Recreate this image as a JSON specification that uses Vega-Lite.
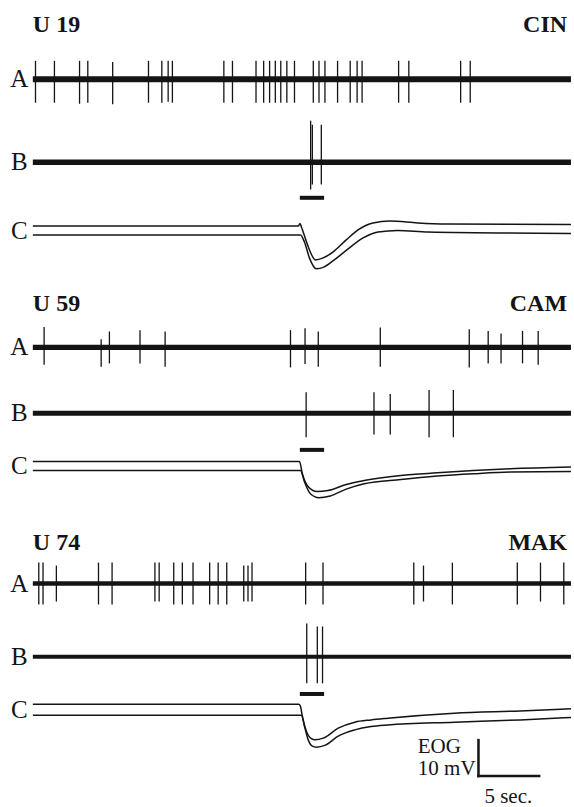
{
  "$schema": "https://vega.github.io/schema/vega-lite/v6.json",
  "autosize": {"type": "fit", "contains": "padding"},
  "width": 574,
  "height": 807,
  "padding": 0,
  "background": "white",
  "config": {"view": {"stroke": null}},
  "datasets": {
    "baselines": [
      {"trace": "A1", "t0": 0, "t1": 44.34, "v": -22.08},
      {"trace": "B1", "t0": 0, "t1": 44.34, "v": -45.19},
      {"trace": "A2", "t0": 0, "t1": 44.34, "v": -96.75},
      {"trace": "B2", "t0": 0, "t1": 44.34, "v": -115.08},
      {"trace": "A3", "t0": 0, "t1": 44.34, "v": -162.5},
      {"trace": "B3", "t0": 0, "t1": 44.34, "v": -182.86}
    ],
    "spikes": [
      {"trace": "A1", "t": 0.22, "top": -16.94, "bottom": -28.61},
      {"trace": "A1", "t": 1.78, "top": -16.94, "bottom": -28.61},
      {"trace": "A1", "t": 3.85, "top": -16.94, "bottom": -28.9},
      {"trace": "A1", "t": 4.53, "top": -16.94, "bottom": -28.61},
      {"trace": "A1", "t": 6.58, "top": -17.3, "bottom": -29.0},
      {"trace": "A1", "t": 9.53, "top": -16.94, "bottom": -28.61},
      {"trace": "A1", "t": 10.63, "top": -16.94, "bottom": -28.61},
      {"trace": "A1", "t": 11.15, "top": -16.94, "bottom": -28.3},
      {"trace": "A1", "t": 11.5, "top": -16.94, "bottom": -28.61},
      {"trace": "A1", "t": 15.74, "top": -16.94, "bottom": -28.61},
      {"trace": "A1", "t": 16.45, "top": -16.94, "bottom": -28.61},
      {"trace": "A1", "t": 18.39, "top": -16.94, "bottom": -28.61},
      {"trace": "A1", "t": 19.02, "top": -16.94, "bottom": -28.61},
      {"trace": "A1", "t": 19.51, "top": -16.94, "bottom": -28.61},
      {"trace": "A1", "t": 19.98, "top": -16.94, "bottom": -28.61},
      {"trace": "A1", "t": 20.43, "top": -16.94, "bottom": -28.61},
      {"trace": "A1", "t": 20.93, "top": -16.94, "bottom": -28.61},
      {"trace": "A1", "t": 21.56, "top": -16.94, "bottom": -28.61},
      {"trace": "A1", "t": 23.11, "top": -16.94, "bottom": -28.61},
      {"trace": "A1", "t": 23.58, "top": -16.94, "bottom": -28.61},
      {"trace": "A1", "t": 24.07, "top": -16.94, "bottom": -28.61},
      {"trace": "A1", "t": 25.11, "top": -16.94, "bottom": -28.61},
      {"trace": "A1", "t": 26.15, "top": -16.94, "bottom": -28.61},
      {"trace": "A1", "t": 26.72, "top": -16.94, "bottom": -28.61},
      {"trace": "A1", "t": 27.13, "top": -16.94, "bottom": -28.61},
      {"trace": "A1", "t": 30.14, "top": -16.94, "bottom": -28.61},
      {"trace": "A1", "t": 30.98, "top": -16.94, "bottom": -28.61},
      {"trace": "A1", "t": 35.25, "top": -16.94, "bottom": -28.61},
      {"trace": "A1", "t": 36.04, "top": -16.94, "bottom": -28.61},
      {"trace": "B1", "t": 22.89, "top": -33.61, "bottom": -52.78},
      {"trace": "B1", "t": 23.03, "top": -34.72, "bottom": -51.39},
      {"trace": "B1", "t": 23.77, "top": -34.72, "bottom": -51.39},
      {"trace": "A2", "t": 0.93, "top": -91.03, "bottom": -101.58},
      {"trace": "A2", "t": 5.63, "top": -94.44, "bottom": -102.14},
      {"trace": "A2", "t": 6.31, "top": -92.31, "bottom": -101.19},
      {"trace": "A2", "t": 8.83, "top": -91.94, "bottom": -101.19},
      {"trace": "A2", "t": 10.9, "top": -92.31, "bottom": -102.14},
      {"trace": "A2", "t": 21.23, "top": -91.94, "bottom": -102.31},
      {"trace": "A2", "t": 22.43, "top": -91.39, "bottom": -101.39},
      {"trace": "A2", "t": 23.52, "top": -92.31, "bottom": -102.14},
      {"trace": "A2", "t": 28.63, "top": -91.19, "bottom": -102.14},
      {"trace": "A2", "t": 35.96, "top": -91.67, "bottom": -102.31},
      {"trace": "A2", "t": 37.52, "top": -92.14, "bottom": -101.19},
      {"trace": "A2", "t": 38.58, "top": -92.86, "bottom": -101.19},
      {"trace": "A2", "t": 40.35, "top": -92.14, "bottom": -101.19},
      {"trace": "A2", "t": 41.64, "top": -92.14, "bottom": -101.58},
      {"trace": "B2", "t": 22.52, "top": -109.25, "bottom": -121.75},
      {"trace": "B2", "t": 28.11, "top": -109.25, "bottom": -121.03},
      {"trace": "B2", "t": 29.45, "top": -109.72, "bottom": -121.03},
      {"trace": "B2", "t": 32.65, "top": -108.61, "bottom": -121.75},
      {"trace": "B2", "t": 34.65, "top": -108.61, "bottom": -121.75},
      {"trace": "A3", "t": 0.49, "top": -156.67, "bottom": -168.33},
      {"trace": "A3", "t": 0.84, "top": -156.67, "bottom": -168.33},
      {"trace": "A3", "t": 1.94, "top": -157.5, "bottom": -167.5},
      {"trace": "A3", "t": 5.41, "top": -156.67, "bottom": -168.33},
      {"trace": "A3", "t": 6.53, "top": -156.67, "bottom": -168.33},
      {"trace": "A3", "t": 10.06, "top": -156.67, "bottom": -167.5},
      {"trace": "A3", "t": 10.41, "top": -156.67, "bottom": -167.5},
      {"trace": "A3", "t": 11.61, "top": -156.67, "bottom": -168.33},
      {"trace": "A3", "t": 12.32, "top": -156.67, "bottom": -168.33},
      {"trace": "A3", "t": 13.2, "top": -156.67, "bottom": -168.33},
      {"trace": "A3", "t": 14.57, "top": -156.67, "bottom": -168.33},
      {"trace": "A3", "t": 15.27, "top": -156.67, "bottom": -168.33},
      {"trace": "A3", "t": 15.98, "top": -156.67, "bottom": -168.33},
      {"trace": "A3", "t": 17.38, "top": -157.5, "bottom": -167.5},
      {"trace": "A3", "t": 17.73, "top": -157.5, "bottom": -167.5},
      {"trace": "A3", "t": 18.06, "top": -156.67, "bottom": -167.5},
      {"trace": "A3", "t": 22.48, "top": -156.67, "bottom": -168.33},
      {"trace": "A3", "t": 23.91, "top": -156.67, "bottom": -168.33},
      {"trace": "A3", "t": 31.39, "top": -156.67, "bottom": -168.33},
      {"trace": "A3", "t": 32.19, "top": -157.5, "bottom": -167.5},
      {"trace": "A3", "t": 34.57, "top": -156.67, "bottom": -168.33},
      {"trace": "A3", "t": 39.92, "top": -156.67, "bottom": -168.33},
      {"trace": "A3", "t": 41.83, "top": -156.67, "bottom": -167.5},
      {"trace": "A3", "t": 43.75, "top": -156.67, "bottom": -168.33},
      {"trace": "B3", "t": 22.57, "top": -173.61, "bottom": -190.28},
      {"trace": "B3", "t": 23.44, "top": -174.44, "bottom": -190.28},
      {"trace": "B3", "t": 23.87, "top": -174.44, "bottom": -190.28}
    ],
    "stimulus": [
      {"panel": "U 19", "start": 22, "end": 24, "v": -55.08},
      {"panel": "U 59", "start": 22, "end": 24, "v": -125.28},
      {"panel": "U 74", "start": 22, "end": 24, "v": -193.25}
    ],
    "eog": [
      {"trace": "C1u", "t": 0, "v": -62.92},
      {"trace": "C1u", "t": 21.89, "v": -62.92},
      {"trace": "C1u", "t": 22.01, "v": -62.23},
      {"trace": "C1u", "t": 22.13, "v": -63.2},
      {"trace": "C1u", "t": 22.7, "v": -68.76},
      {"trace": "C1u", "t": 23.28, "v": -72.37},
      {"trace": "C1u", "t": 23.93, "v": -71.81},
      {"trace": "C1u", "t": 24.75, "v": -70.14},
      {"trace": "C1u", "t": 25.82, "v": -66.81},
      {"trace": "C1u", "t": 26.8, "v": -64.03},
      {"trace": "C1u", "t": 28.03, "v": -62.09},
      {"trace": "C1u", "t": 29.43, "v": -61.53},
      {"trace": "C1u", "t": 31.72, "v": -62.09},
      {"trace": "C1u", "t": 34.18, "v": -62.37},
      {"trace": "C1u", "t": 44.34, "v": -62.51},
      {"trace": "C1l", "t": 0, "v": -65.42},
      {"trace": "C1l", "t": 22.05, "v": -65.42},
      {"trace": "C1l", "t": 22.38, "v": -67.37},
      {"trace": "C1l", "t": 22.79, "v": -71.81},
      {"trace": "C1l", "t": 23.36, "v": -74.87},
      {"trace": "C1l", "t": 24.02, "v": -74.31},
      {"trace": "C1l", "t": 24.84, "v": -72.37},
      {"trace": "C1l", "t": 25.98, "v": -69.31},
      {"trace": "C1l", "t": 27.21, "v": -66.26},
      {"trace": "C1l", "t": 28.44, "v": -64.59},
      {"trace": "C1l", "t": 30.08, "v": -64.17},
      {"trace": "C1l", "t": 32.54, "v": -64.59},
      {"trace": "C1l", "t": 44.34, "v": -65.01},
      {"trace": "C2u", "t": 0, "v": -128.53},
      {"trace": "C2u", "t": 21.97, "v": -128.53},
      {"trace": "C2u", "t": 22.21, "v": -131.94},
      {"trace": "C2u", "t": 22.66, "v": -135.4},
      {"trace": "C2u", "t": 23.42, "v": -136.9},
      {"trace": "C2u", "t": 24.32, "v": -136.6},
      {"trace": "C2u", "t": 25.82, "v": -134.9},
      {"trace": "C2u", "t": 27.3, "v": -133.81},
      {"trace": "C2u", "t": 30.33, "v": -132.42},
      {"trace": "C2u", "t": 33.33, "v": -131.67},
      {"trace": "C2u", "t": 36.31, "v": -131.03},
      {"trace": "C2u", "t": 39.34, "v": -130.56},
      {"trace": "C2u", "t": 44.34, "v": -130.08},
      {"trace": "C2l", "t": 0, "v": -131.03},
      {"trace": "C2l", "t": 22.05, "v": -131.03},
      {"trace": "C2l", "t": 22.38, "v": -134.17},
      {"trace": "C2l", "t": 22.87, "v": -137.5},
      {"trace": "C2l", "t": 23.57, "v": -138.6},
      {"trace": "C2l", "t": 24.51, "v": -138.1},
      {"trace": "C2l", "t": 25.82, "v": -136.2},
      {"trace": "C2l", "t": 27.3, "v": -134.72},
      {"trace": "C2l", "t": 30.33, "v": -133.53},
      {"trace": "C2l", "t": 33.33, "v": -132.58},
      {"trace": "C2l", "t": 36.31, "v": -131.94},
      {"trace": "C2l", "t": 39.34, "v": -131.47},
      {"trace": "C2l", "t": 44.34, "v": -131.31},
      {"trace": "C3u", "t": 0, "v": -196.11},
      {"trace": "C3u", "t": 21.93, "v": -196.11},
      {"trace": "C3u", "t": 22.05, "v": -196.67},
      {"trace": "C3u", "t": 22.21, "v": -199.44},
      {"trace": "C3u", "t": 22.54, "v": -203.61},
      {"trace": "C3u", "t": 22.95, "v": -205.69},
      {"trace": "C3u", "t": 23.25, "v": -206.03},
      {"trace": "C3u", "t": 23.93, "v": -205.56},
      {"trace": "C3u", "t": 25.16, "v": -202.78},
      {"trace": "C3u", "t": 26.53, "v": -201.11},
      {"trace": "C3u", "t": 27.87, "v": -200.47},
      {"trace": "C3u", "t": 29.26, "v": -200.0},
      {"trace": "C3u", "t": 34.73, "v": -198.61},
      {"trace": "C3u", "t": 40.16, "v": -197.97},
      {"trace": "C3u", "t": 44.34, "v": -197.36},
      {"trace": "C3l", "t": 0, "v": -199.17},
      {"trace": "C3l", "t": 22.13, "v": -199.17},
      {"trace": "C3l", "t": 22.38, "v": -202.22},
      {"trace": "C3l", "t": 22.7, "v": -206.11},
      {"trace": "C3l", "t": 23.03, "v": -207.78},
      {"trace": "C3l", "t": 23.36, "v": -208.06},
      {"trace": "C3l", "t": 24.1, "v": -207.5},
      {"trace": "C3l", "t": 25.16, "v": -205.0},
      {"trace": "C3l", "t": 26.53, "v": -203.25},
      {"trace": "C3l", "t": 27.87, "v": -202.31},
      {"trace": "C3l", "t": 29.26, "v": -201.86},
      {"trace": "C3l", "t": 34.73, "v": -201.11},
      {"trace": "C3l", "t": 40.16, "v": -200.47},
      {"trace": "C3l", "t": 44.34, "v": -199.81}
    ],
    "scalebar": [
      {"part": "EOG 10 mV", "t0": 36.72, "t1": 36.72, "v0": -206.11, "v1": -216.11},
      {"part": "5 sec.", "t0": 36.72, "t1": 41.72, "v0": -216.11, "v1": -216.11}
    ],
    "titlesLeft": [
      {"label": "U 19", "t": 0, "v": -8.8},
      {"label": "U 59", "t": 0, "v": -86.58},
      {"label": "U 74", "t": 0, "v": -153.25}
    ],
    "titlesRight": [
      {"label": "CIN", "t": 44.02, "v": -8.8},
      {"label": "CAM", "t": 44.02, "v": -86.58},
      {"label": "MAK", "t": 44.02, "v": -153.25}
    ],
    "rowLabels": [
      {"label": "A", "t": -1.11, "v": -24.3},
      {"label": "B", "t": -1.11, "v": -47.42},
      {"label": "C", "t": -1.11, "v": -66.5},
      {"label": "A", "t": -1.11, "v": -98.97},
      {"label": "B", "t": -1.11, "v": -117.31},
      {"label": "C", "t": -1.11, "v": -131.94},
      {"label": "A", "t": -1.11, "v": -164.72},
      {"label": "B", "t": -1.11, "v": -185.08},
      {"label": "C", "t": -1.11, "v": -199.86}
    ],
    "scaleText": [
      {"label": "EOG", "t": 31.72, "v": -209.72},
      {"label": "10 mV", "t": 31.72, "v": -215.83},
      {"label": "5 sec.", "t": 37.21, "v": -223.61}
    ]
  },
  "encoding": {
    "x": {"type": "quantitative", "scale": {"domain": [-2.705, 44.344], "nice": false, "zero": false}, "axis": null},
    "y": {"type": "quantitative", "scale": {"domain": [-224.17, 0], "nice": false, "zero": false}, "axis": null}
  },
  "layer": [
    {
      "data": {"name": "baselines"},
      "mark": {"type": "rule", "color": "#141414"},
      "encoding": {
        "x": {"field": "t0", "type": "quantitative"},
        "x2": {"field": "t1"},
        "y": {"field": "v", "type": "quantitative"},
        "strokeWidth": {"field": "trace", "type": "nominal", "scale": {"domain": ["A1", "B1", "A2", "B2", "A3", "B3"], "range": [6, 4, 5, 4, 7, 8]}, "legend": null}
      }
    },
    {
      "data": {"name": "spikes"},
      "mark": {"type": "rule", "color": "#141414", "strokeWidth": 1.3},
      "encoding": {
        "x": {"field": "t", "type": "quantitative"},
        "y": {"field": "top", "type": "quantitative"},
        "y2": {"field": "bottom"}
      }
    },
    {
      "data": {"name": "stimulus"},
      "mark": {"type": "rule", "color": "#141414", "strokeWidth": 4},
      "encoding": {
        "x": {"field": "start", "type": "quantitative"},
        "x2": {"field": "end"},
        "y": {"field": "v", "type": "quantitative"}
      }
    },
    {
      "data": {"name": "eog"},
      "mark": {"type": "line", "color": "#141414", "strokeWidth": 1.5, "interpolate": "monotone"},
      "encoding": {
        "x": {"field": "t", "type": "quantitative"},
        "y": {"field": "v", "type": "quantitative"},
        "detail": {"field": "trace", "type": "nominal"}
      }
    },
    {
      "data": {"name": "scalebar"},
      "mark": {"type": "rule", "color": "#141414", "strokeWidth": 2.5, "strokeCap": "square"},
      "encoding": {
        "x": {"field": "t0", "type": "quantitative"},
        "x2": {"field": "t1"},
        "y": {"field": "v0", "type": "quantitative"},
        "y2": {"field": "v1"}
      }
    },
    {
      "data": {"name": "titlesLeft"},
      "mark": {"type": "text", "font": "Liberation Serif", "fontWeight": "bold", "fontSize": 24, "align": "left", "baseline": "alphabetic", "color": "#141414"},
      "encoding": {
        "x": {"field": "t", "type": "quantitative"},
        "y": {"field": "v", "type": "quantitative"},
        "text": {"field": "label"}
      }
    },
    {
      "data": {"name": "titlesRight"},
      "mark": {"type": "text", "font": "Liberation Serif", "fontWeight": "bold", "fontSize": 24, "align": "right", "baseline": "alphabetic", "color": "#141414"},
      "encoding": {
        "x": {"field": "t", "type": "quantitative"},
        "y": {"field": "v", "type": "quantitative"},
        "text": {"field": "label"}
      }
    },
    {
      "data": {"name": "rowLabels"},
      "mark": {"type": "text", "font": "Liberation Serif", "fontSize": 25, "align": "center", "baseline": "alphabetic", "color": "#141414"},
      "encoding": {
        "x": {"field": "t", "type": "quantitative"},
        "y": {"field": "v", "type": "quantitative"},
        "text": {"field": "label"}
      }
    },
    {
      "data": {"name": "scaleText"},
      "mark": {"type": "text", "font": "Liberation Serif", "fontSize": 21, "align": "left", "baseline": "alphabetic", "color": "#141414"},
      "encoding": {
        "x": {"field": "t", "type": "quantitative"},
        "y": {"field": "v", "type": "quantitative"},
        "text": {"field": "label"}
      }
    }
  ]
}
